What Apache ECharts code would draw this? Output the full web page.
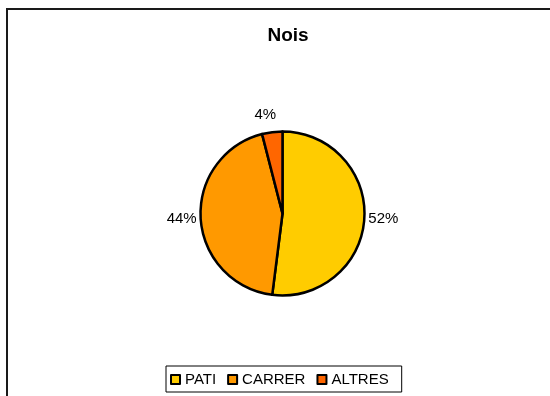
<!DOCTYPE html>
<html>
<head>
<meta charset="utf-8">
<title>Nois</title>
<script src="https://cdn.jsdelivr.net/npm/echarts@6/dist/echarts.min.js"></script>
<style>
  html, body { margin: 0; padding: 0; background: #fff; }
  #chart { width: 550px; height: 396px; }
</style>
</head>
<body>
<div id="chart"></div>
<script>
// Where the "Nois" group spends its time
const categories = ['PATI', 'CARRER', 'ALTRES'];
const shares = [52, 44, 4];
const sliceColors = ['#FFCC00', '#FF9900', '#FF6600'];

const chart = echarts.init(document.getElementById('chart'), null, { renderer: 'canvas' });

const baseFont = 'Arial, "Liberation Sans", sans-serif';

const pieData = categories.map((name, i) => {
  const item = {
    name: name,
    value: shares[i],
    itemStyle: { color: sliceColors[i] }
  };
  // the thin slice at the top gets its label lifted above the rim
  if (name === 'ALTRES') {
    item.labelLine = { show: false, length: 17, length2: 0 };
    item.label = { distanceToLabelLine: -6 };
  }
  return item;
});

chart.setOption({
  animation: false,
  backgroundColor: '#ffffff',
  graphic: [{
    type: 'rect',
    shape: { x: 7, y: 9, width: 700, height: 600 },
    style: { fill: 'none', stroke: '#1a1a1a', lineWidth: 2 },
    silent: true,
    z: 0
  }],
  title: {
    text: 'Nois',
    left: 283,
    top: 21,
    textAlign: 'center',
    textStyle: {
      fontFamily: baseFont,
      fontWeight: 'bold',
      fontSize: 19,
      color: '#000'
    }
  },
  legend: {
    data: categories,
    left: 166,
    top: 366,
    orient: 'horizontal',
    itemWidth: 9,
    itemHeight: 9,
    itemGap: 11,
    padding: [6, 13, 5, 4],
    borderColor: '#000',
    borderWidth: 1,
    icon: 'rect',
    itemStyle: { borderColor: '#000', borderWidth: 2 },
    textStyle: {
      fontFamily: baseFont,
      fontSize: 15,
      color: '#000',
      padding: [0, 0, 0, 0]
    },
    selectedMode: false
  },
  series: [{
    type: 'pie',
    center: [282.5, 213.5],
    radius: [0, 82],
    startAngle: 90,
    clockwise: true,
    avoidLabelOverlap: false,
    itemStyle: { borderColor: '#000', borderWidth: 2.5 },
    label: {
      show: true,
      position: 'outside',
      formatter: '{c}%',
      fontFamily: baseFont,
      fontSize: 15,
      color: '#000',
      distanceToLabelLine: 4
    },
    labelLine: { show: false, length: 0, length2: 0 },
    emphasis: { disabled: true },
    data: pieData
  }]
});
</script>
</body>
</html>
